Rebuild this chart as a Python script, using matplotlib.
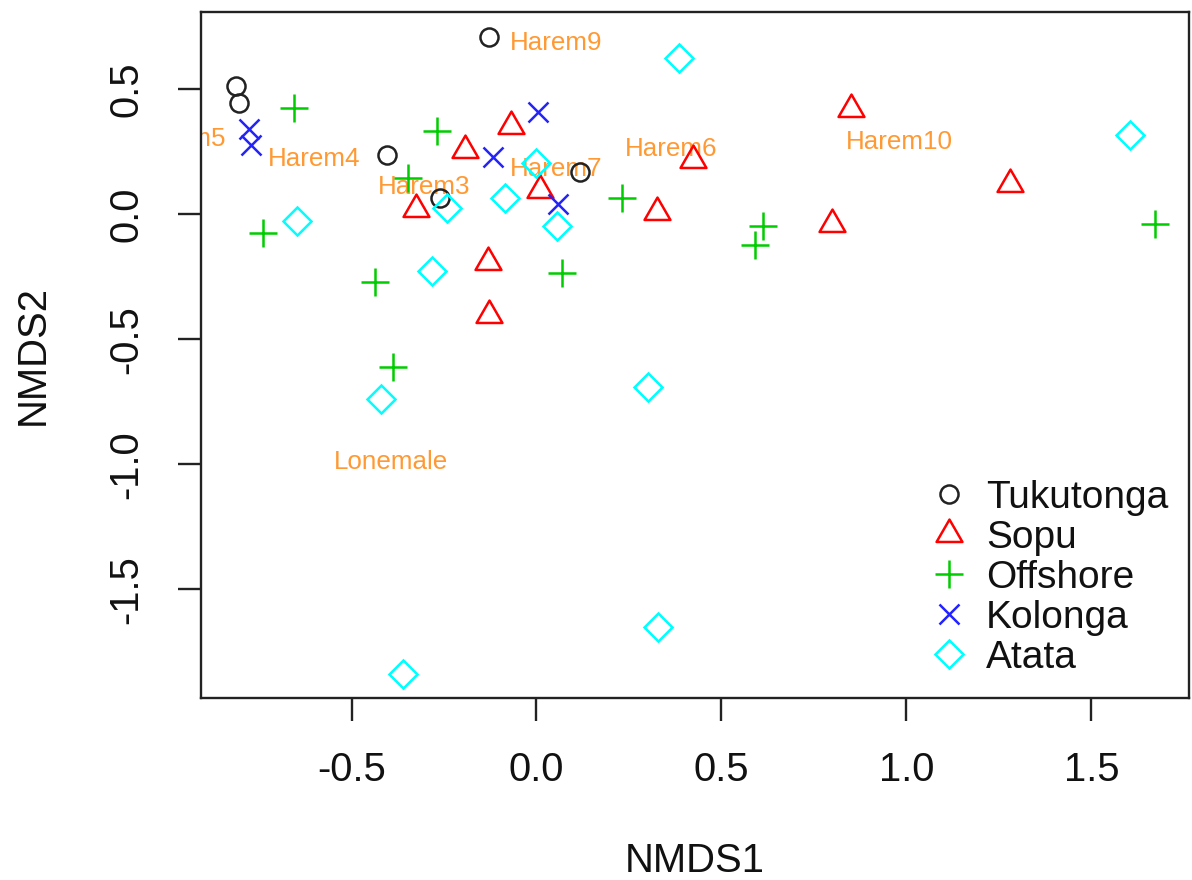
import matplotlib
matplotlib.use("Agg")
import matplotlib.pyplot as plt
from matplotlib.lines import Line2D
from matplotlib.path import Path
import matplotlib.transforms as mtransforms

plt.rcParams['font.family'] = ['Liberation Sans', 'DejaVu Sans']

# ---- data (NMDS scores) ----
groups = ["Tukutonga", "Sopu", "Offshore", "Kolonga", "Atata"]

tuk_x = [-0.812, -0.804, -0.128, -0.403, -0.261, 0.118]
tuk_y = [0.513, 0.444, 0.708, 0.236, 0.065, 0.169]

sopu_x = [-0.070, -0.192, -0.326, 0.009, -0.130, -0.128, 0.424, 0.325, 0.850, 0.800, 1.280]
sopu_y = [0.351, 0.255, 0.022, 0.095, -0.191, -0.405, 0.215, 0.009, 0.422, -0.038, 0.122]

off_x = [-0.655, -0.270, -0.346, -0.740, -0.436, 0.070, 0.232, 0.611, 0.591, 1.673, -0.389]
off_y = [0.426, 0.331, 0.144, -0.076, -0.273, -0.236, 0.066, -0.047, -0.123, -0.039, -0.613]

kol_x = [-0.776, -0.772, 0.003, -0.118, 0.059]
kol_y = [0.340, 0.277, 0.410, 0.230, 0.041]

ata_x = [-0.648, -0.243, -0.085, 0.000, 0.055, -0.282, 0.386, 1.604, -0.421, 0.301, 0.329, -0.360]
ata_y = [-0.027, 0.024, 0.066, 0.204, -0.046, -0.226, 0.624, 0.315, -0.740, -0.690, -1.652, -1.839]

label_text = ["Harem5", "Harem4", "Harem3", "Harem9", "Harem7", "Harem6", "Harem10", "Lonemale"]
label_x = [-0.964, -0.601, -0.304, 0.054, 0.054, 0.364, 0.982, -0.393]
label_y = [0.310, 0.230, 0.120, 0.694, 0.190, 0.270, 0.297, -0.980]

xticks = [-0.5, 0.0, 0.5, 1.0, 1.5]
yticks = [-1.5, -1.0, -0.5, 0.0, 0.5]

# ---- styles ----
tri = Path([(0, 0.583), (-0.505, -0.292), (0.505, -0.292), (0, 0.583)],
           [Path.MOVETO, Path.LINETO, Path.LINETO, Path.CLOSEPOLY])
styles = {
    "Tukutonga": dict(marker="o", ms=13, color="#222222"),
    "Sopu": dict(marker=tri, ms=21.5, color="#FF0000"),
    "Offshore": dict(marker="+", ms=19.5, color="#00CD00"),
    "Kolonga": dict(marker="x", ms=15, color="#2222FF"),
    "Atata": dict(marker="D", ms=14, color="#00FFFF"),
}
data = {
    "Tukutonga": (tuk_x, tuk_y),
    "Sopu": (sopu_x, sopu_y),
    "Offshore": (off_x, off_y),
    "Kolonga": (kol_x, kol_y),
    "Atata": (ata_x, ata_y),
}

fig = plt.figure(figsize=(11.92, 8.8), dpi=100)
ax = fig.add_axes([0.1686, 0.2068, 0.8289, 0.7799])

lw = 1.8
handles = []
for g in groups:
    st = styles[g]
    x, y = data[g]
    ax.plot(x, y, linestyle="none", marker=st["marker"], markersize=st["ms"],
            markerfacecolor="none", markeredgecolor=st["color"],
            markeredgewidth=lw, zorder=3)
    handles.append(Line2D([], [], linestyle="none", marker=st["marker"],
                          markersize=st["ms"], markerfacecolor="none",
                          markeredgecolor=st["color"], markeredgewidth=lw,
                          label=g))

lab_trans = mtransforms.offset_copy(ax.transData, fig=fig, y=-6.7, units="points")
for t, x, y in zip(label_text, label_x, label_y):
    ax.text(x, y, t, color="#FF9933", fontsize=18.7, ha="center", va="baseline",
            transform=lab_trans, clip_on=True, zorder=2)

ax.set_xlim(-0.907, 1.764)
ax.set_ylim(-1.935, 0.81)
ax.set_xticks(xticks)
ax.set_xticklabels([f"{v:.1f}" for v in xticks])
ax.set_yticks(yticks)
ax.set_yticklabels([f"{v:.1f}" for v in yticks], rotation=90, va="center")

for s in ax.spines.values():
    s.set_linewidth(1.7)
    s.set_color("#222222")
ax.tick_params(axis="both", direction="out", length=16.3, width=1.7,
               color="#222222", labelsize=28.8, labelcolor="#111111")
ax.tick_params(axis="x", pad=21.5)
ax.tick_params(axis="y", pad=23.5)

ax.set_xlabel("NMDS1", fontsize=28.8, color="#111111", va="top")
ax.xaxis.set_label_coords(0.5, -0.2105)
ax.set_ylabel("NMDS2", fontsize=28.8, color="#111111")
ax.yaxis.set_label_coords(-0.1513, 0.5)

leg = ax.legend(handles=handles, loc="upper left", bbox_to_anchor=(0.7376, 0.3176),
                frameon=False, fontsize=28, handlelength=1.0, handletextpad=0.44,
                labelspacing=0.1, borderaxespad=0, borderpad=0)
for t in leg.get_texts():
    t.set_color("#111111")

fig.savefig("out.png", dpi=100)
